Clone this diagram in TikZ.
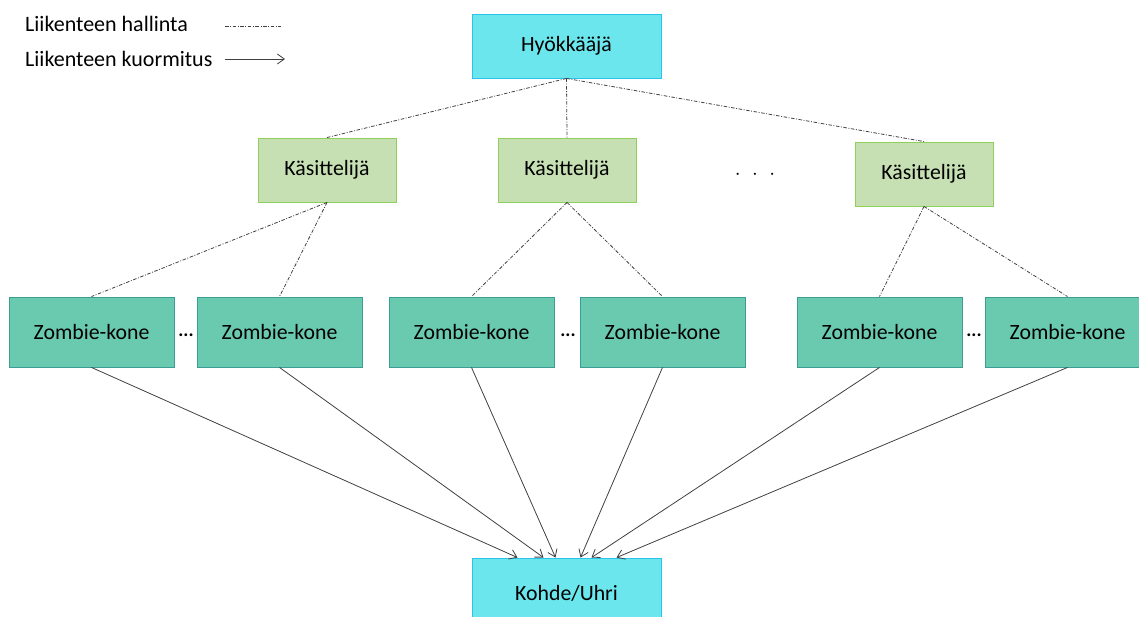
\documentclass[tikz,border=0pt]{standalone}
\usepackage{fontspec}
\setmainfont{Carlito}
\usetikzlibrary{arrows.meta}
\definecolor{attfill}{HTML}{6AE6EC}
\definecolor{attline}{HTML}{2BC3EA}
\definecolor{hanfill}{HTML}{C6E0B4}
\definecolor{hanline}{HTML}{8FD05A}
\definecolor{zomfill}{HTML}{6ACAB0}
\definecolor{zomline}{HTML}{3A9E96}
\definecolor{linegray}{HTML}{404040}
\tikzset{
  box/.style={draw, line width=0.9pt, inner sep=0pt, font=\fontsize{21.8}{26}\selectfont},
  attbox/.style={box, fill=attfill, draw=attline, minimum width=189pt, minimum height=64pt},
  hanbox/.style={box, fill=hanfill, draw=hanline, minimum width=138pt, minimum height=64pt},
  zombox/.style={box, fill=zomfill, draw=zomline, minimum width=165pt, minimum height=70pt},
  ctrl/.style={draw=linegray, line width=0.8pt, dash pattern=on 3.5pt off 1.6pt on 0.9pt off 1.6pt},
  load/.style={draw=linegray, line width=0.8pt, -{Straight Barb[length=7pt,width=10pt]}},
  lbl/.style={font=\fontsize{22}{26}\selectfont, anchor=west, inner sep=0pt},
  dots/.style={font=\fontsize{19}{22}\selectfont\bfseries, inner sep=0pt}
}
\begin{document}
\begin{tikzpicture}[x=1pt,y=-1pt]
\useasboundingbox (0,0) rectangle (1139,617);
\clip (0,0) rectangle (1139,617);

% legend
\node[lbl] (l1) at (25,24) {Liikenteen hallinta};
\node[lbl] (l2) at (25,59) {Liikenteen kuormitus};
\coordinate (l1a) at (225,26);
\coordinate (l1b) at (281,26);
\coordinate (l2a) at (225,59);
\coordinate (l2b) at (285,59);
\draw[ctrl] (l1a) -- (l1b);
\draw[load] (l2a) -- (l2b);

% attacker and victim
\node[attbox] (att) at (566.5,46) {Hyökkääjä};
\node[attbox, minimum height=70pt] (vic) at (566.5,593) {Kohde/Uhri};

% handlers
\node[hanbox] (h1) at (327,170) {Käsittelijä};
\node[hanbox] (h2) at (567,170) {Käsittelijä};
\node[hanbox] (h3) at (924,174) {Käsittelijä};
\node[font=\fontsize{20}{24}\selectfont, inner sep=0pt] (hd) at (755,175) {$\cdot\,\,\cdot\,\,\cdot$};

% zombie machines
\node[zombox] (z1) at (91.5,332) {Zombie-kone};
\node[zombox] (z2) at (279.5,332) {Zombie-kone};
\node[zombox] (z3) at (471.5,332) {Zombie-kone};
\node[zombox] (z4) at (662.5,332) {Zombie-kone};
\node[zombox] (z5) at (879.5,332) {Zombie-kone};
\node[zombox] (z6) at (1067.5,332) {Zombie-kone};
\node[dots] (d1) at (186,335) {...};
\node[dots] (d2) at (568,335) {...};
\node[dots] (d3) at (974,335) {...};

% control traffic
\draw[ctrl] (att.south) -- (h1.north);
\draw[ctrl] (att.south) -- (h2.north);
\draw[ctrl] (att.south) -- (h3.north);
\draw[ctrl] (h1.south) -- (z1.north);
\draw[ctrl] (h1.south) -- (z2.north);
\draw[ctrl] (h2.south) -- (z3.north);
\draw[ctrl] (h2.south) -- (z4.north);
\draw[ctrl] (h3.south) -- (z5.north);
\draw[ctrl] (h3.south) -- (z6.north);

% attack traffic
\draw[load] (z1.south) -- ([xshift=-49pt]vic.north);
\draw[load] (z2.south) -- ([xshift=-23pt]vic.north);
\draw[load] (z3.south) -- ([xshift=-11pt]vic.north);
\draw[load] (z4.south) -- ([xshift=14pt]vic.north);
\draw[load] (z5.south) -- ([xshift=25pt]vic.north);
\draw[load] (z6.south) -- ([xshift=50pt]vic.north);
\end{tikzpicture}
\end{document}
